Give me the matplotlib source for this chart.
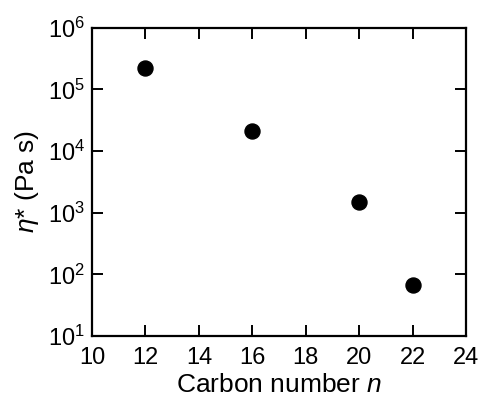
import numpy as np
import matplotlib
matplotlib.use("Agg")
import matplotlib.pyplot as plt

# Data
carbon_n = [12, 16, 20, 22]
eta_star = [2.2e5, 2.1e4, 1.5e3, 68]

plt.rcParams['font.family'] = ['Liberation Sans', 'DejaVu Sans']
plt.rcParams['mathtext.fontset'] = 'custom'
plt.rcParams['mathtext.rm'] = 'Liberation Sans'
plt.rcParams['mathtext.it'] = 'Liberation Sans:italic'
plt.rcParams['mathtext.default'] = 'regular'

fig = plt.figure(figsize=(4.82, 4.03), dpi=100)
ax = fig.add_axes([0.191, 0.166, 0.776, 0.765])

ax.plot(carbon_n, eta_star, 'o', color='black', markersize=10.8, linestyle='none')

ax.set_yscale('log')
ax.set_xlim(10, 24)
ax.set_ylim(1e1, 1e6)
ax.set_xticks(np.arange(10, 25, 2))
ax.set_yticks([1e1, 1e2, 1e3, 1e4, 1e5, 1e6])
ax.yaxis.set_minor_locator(matplotlib.ticker.NullLocator())

ax.tick_params(which='both', direction='in', top=True, right=True,
               length=8, width=1.4, labelsize=17, pad=5)
ax.tick_params(axis='x', pad=8)
for s in ax.spines.values():
    s.set_linewidth(1.6)

ax.set_xlabel('Carbon number $\\mathit{n}$', fontsize=19, labelpad=3)
ax.set_ylabel('$\\mathit{\\eta}$* (Pa s)', fontsize=19, labelpad=5)

fig.savefig('out.png', dpi=100)
